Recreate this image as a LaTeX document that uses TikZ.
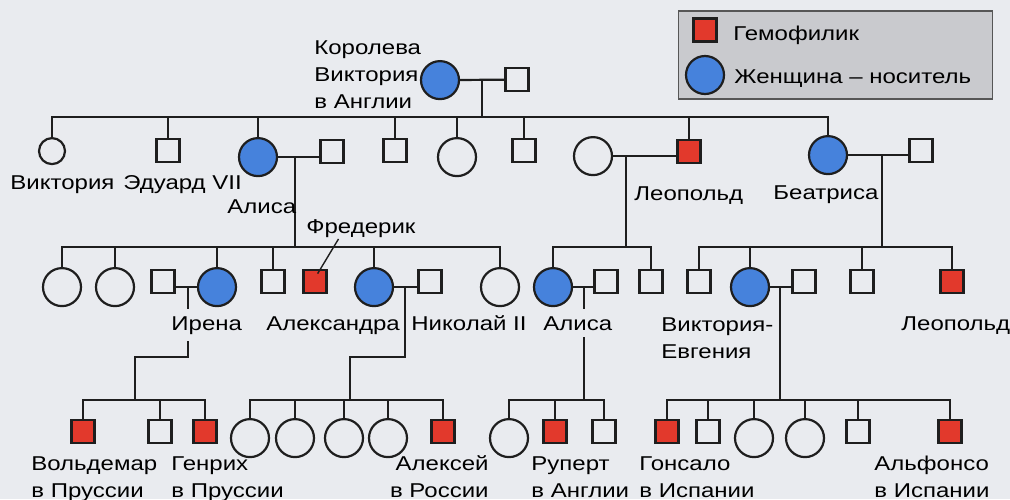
\documentclass[tikz,border=0pt]{standalone}
\usepackage{fontspec}
\setmainfont{Liberation Sans}[FakeStretch=1.2]
\usetikzlibrary{calc}
\definecolor{Paper}{HTML}{E9EBEF}
\definecolor{Ink}{HTML}{1E1E1E}
\definecolor{Bleeder}{HTML}{E2392C}
\definecolor{Carrier}{HTML}{4682DC}
\definecolor{KeyPanel}{HTML}{C9CACE}

\begin{document}
\begin{tikzpicture}[x=0.5pt,y=-0.5pt,
    man/.style={draw=Ink,line width=1.1pt,minimum size=11.5pt,inner sep=0pt,anchor=north},
    woman/.style={man,circle,minimum size=19pt},
    hemo/.style={man,fill=Bleeder},
    carrier/.style={woman,fill=Carrier},
    kin/.style={draw=Ink,line width=1.1pt,line cap=rect},
    who/.style={font=\fontsize{10}{13.5}\selectfont,align=left,anchor=base west,
      inner xsep=1pt,inner ysep=1pt},
    cover/.style={fill=Paper,inner ysep=3.5pt}
  ]
  \useasboundingbox (0,0) rectangle (1010,499);
  \fill[Paper] (0,0) rectangle (1010,499);

  % first generation
  \node[carrier] (queen) at (440,60) {};
  \node[man] (albert) at (517,67) {};

  % second generation
  \node[woman,minimum size=13pt] (vicky) at (52,137) {};
  \node[man] (edward) at (168,138) {};
  \node[carrier] (alice) at (258,137) {};
  \node[man] (louis) at (332,139) {};
  \node[man] (alfred) at (395,138) {};
  \node[woman] (helena) at (457,137) {};
  \node[man] (arthur) at (524,138) {};
  \node[woman] (helen) at (593,136) {};
  \node[hemo] (leopold) at (689,139) {};
  \node[carrier] (beatrice) at (828,135) {};
  \node[man] (henry) at (921,138) {};

  % third generation
  \node[woman] (victoria) at (62,267) {};
  \node[woman] (ella) at (115,267) {};
  \node[man] (heinrich) at (163,269) {};
  \node[carrier] (irene) at (217,267) {};
  \node[man] (ernst) at (273,269) {};
  \node[hemo] (frederick) at (315,269) {};
  \node[carrier] (alexandra) at (374,267) {};
  \node[man] (nicholas) at (430,269) {};
  \node[woman] (marie) at (500,267) {};
  \node[carrier] (aliceb) at (553,267) {};
  \node[man] (teck) at (606,269) {};
  \node[man] (charles) at (651,269) {};
  \node[man] (alexander) at (699,269) {};
  \node[carrier] (ena) at (750,267) {};
  \node[man] (alfonso) at (804,269) {};
  \node[man] (maurice) at (862,269) {};
  \node[hemo] (leopoldb) at (952,269) {};

  % fourth generation
  \node[hemo] (waldemar) at (83,419) {};
  \node[man] (sigismund) at (160,419) {};
  \node[hemo] (heinrichb) at (205,419) {};
  \node[woman] (olga) at (250,418) {};
  \node[woman] (tatiana) at (295,418) {};
  \node[woman] (maria) at (344,418) {};
  \node[woman] (anastasia) at (388,418) {};
  \node[hemo] (alexei) at (443,419) {};
  \node[woman] (may) at (509,418) {};
  \node[hemo] (rupert) at (555,419) {};
  \node[man] (mauriceb) at (604,419) {};
  \node[hemo] (gonzalo) at (667,419) {};
  \node[man] (jaime) at (708,419) {};
  \node[woman] (beatriz) at (754,418) {};
  \node[woman] (cristina) at (805,418) {};
  \node[man] (juan) at (858,419) {};
  \node[hemo] (alfonsob) at (950,419) {};

  % marriages and sibships
  \coordinate (s1) at (482,117);
  \draw[kin] (queen) -- (albert);
  \draw[kin] (s1 |- queen) -- (s1);
  \draw[kin] (vicky.north |- s1) -- (beatrice.north |- s1);
  \foreach \k in {vicky,edward,alice,alfred,helena,arthur,leopold,beatrice}
    \draw[kin] (\k.north) -- (\k.north |- s1);

  \coordinate (s2) at (295,247);
  \draw[kin] (alice) -- (alice -| louis.west);
  \draw[kin] (s2 |- alice) -- (s2);
  \draw[kin] (victoria.north |- s2) -- (marie.north |- s2);
  \foreach \k in {victoria,ella,irene,ernst,alexandra,marie}
    \draw[kin] (\k.north) -- (\k.north |- s2);

  \coordinate (s2b) at (626,247);
  \draw[kin] (helen) -- (helen -| leopold.west);
  \draw[kin] (s2b |- helen) -- (s2b);
  \draw[kin] (aliceb.north |- s2b) -- (charles.north |- s2b);
  \foreach \k in {aliceb,charles}
    \draw[kin] (\k.north) -- (\k.north |- s2b);

  \coordinate (s2c) at (882,247);
  \draw[kin] (beatrice) -- (beatrice -| henry.west);
  \draw[kin] (s2c |- beatrice) -- (s2c);
  \draw[kin] (alexander.north |- s2c) -- (leopoldb.north |- s2c);
  \foreach \k in {alexander,ena,maurice,leopoldb}
    \draw[kin] (\k.north) -- (\k.north |- s2c);

  \coordinate (j1) at (188,357);
  \coordinate (s3a) at (135,400);
  \draw[kin] (irene) -- (irene -| heinrich.east);
  \draw[kin] (j1 |- irene) -- (j1) -| (s3a);
  \draw[kin] (waldemar.north |- s3a) -- (heinrichb.north |- s3a);
  \foreach \k in {waldemar,sigismund,heinrichb}
    \draw[kin] (\k.north) -- (\k.north |- s3a);

  \coordinate (j2) at (405,357);
  \coordinate (s3b) at (350,400);
  \draw[kin] (alexandra) -- (alexandra -| nicholas.west);
  \draw[kin] (j2 |- alexandra) -- (j2) -| (s3b);
  \draw[kin] (olga.north |- s3b) -- (alexei.north |- s3b);
  \foreach \k in {olga,tatiana,maria,anastasia,alexei}
    \draw[kin] (\k.north) -- (\k.north |- s3b);

  \coordinate (s3c) at (584,400);
  \draw[kin] (aliceb) -- (aliceb -| teck.west);
  \draw[kin] (s3c |- aliceb) -- (s3c);
  \draw[kin] (may.north |- s3c) -- (mauriceb.north |- s3c);
  \foreach \k in {may,rupert,mauriceb}
    \draw[kin] (\k.north) -- (\k.north |- s3c);

  \coordinate (s3d) at (780,400);
  \draw[kin] (ena) -- (ena -| alfonso.west);
  \draw[kin] (s3d |- ena) -- (s3d);
  \draw[kin] (gonzalo.north |- s3d) -- (alfonsob.north |- s3d);
  \foreach \k in {gonzalo,jaime,beatriz,cristina,juan,alfonsob}
    \draw[kin] (\k.north) -- (\k.north |- s3d);

  % names (several lines: base is the last line)
  \node[who] (queentxt) at (312,108) {Королева\\Виктория\\в Англии};
  \node[who] (vickytxt) at (8,189) {Виктория};
  \node[who] (edwardtxt) at (121,189) {Эдуард VII};
  \node[who] (alicetxt) at (225,213) {Алиса};
  \node[who] (fredtxt) at (304,233) {Фредерик};
  \node[who] (leopoldtxt) at (632,200) {Леопольд};
  \node[who] (beatricetxt) at (771,199) {Беатриса};
  \node[who,cover] (irenetxt) at (169,330) {Ирена};
  \node[who] (alexandratxt) at (264,330) {Александра};
  \node[who] (nicholastxt) at (409,330) {Николай II};
  \node[who,cover] (alicebtxt) at (541,330) {Алиса};
  \node[who] (enatxt) at (659,358) {Виктория-\\Евгения};
  \node[who] (leopoldbtxt) at (899,330) {Леопольд};
  \node[who] (waldemartxt) at (29,497) {Вольдемар\\в Пруссии};
  \node[who] (heinrichbtxt) at (169,497) {Генрих\\в Пруссии};
  \node[who,align=right,anchor=base east] (alexeitxt) at (491,497) {Алексей\\в России};
  \node[who] (ruperttxt) at (529,497) {Руперт\\в Англии};
  \node[who] (gonzalotxt) at (637,497) {Гонсало\\в Испании};
  \node[who] (alfonsobtxt) at (872,497) {Альфонсо\\в Испании};
  \draw[kin,line width=0.7pt] ($(fredtxt.south west)!0.3!(fredtxt.south east)$)
    -- ([xshift=1.5pt,yshift=-2pt]frederick.north);

  % key
  \node[draw=Ink!75,fill=KeyPanel,line width=0.6pt,minimum width=157pt,
    minimum height=44pt,inner sep=0pt] (key) at (835.5,55) {};
  \node[hemo,anchor=center] (keyhemo) at (705,30) {};
  \node[carrier,anchor=center] (keycarrier) at (705,75) {};
  \node[who] (keyhemotxt) at (731,40) {Гемофилик};
  \node[who] (keycarriertxt) at (732,83) {Женщина – носитель};
\end{tikzpicture}
\end{document}
